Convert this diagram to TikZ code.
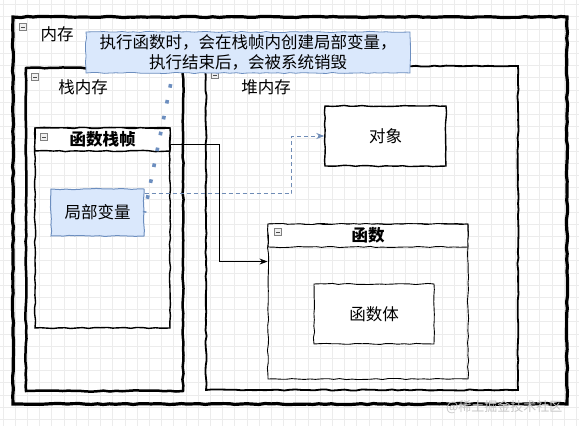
\documentclass[tikz,border=0pt]{standalone}
\usepackage{fontspec}
\setmainfont{Noto Sans CJK SC}
\usetikzlibrary{arrows.meta,decorations.pathmorphing}
\definecolor{noteblue}{HTML}{DAE8FC}
\definecolor{noteline}{HTML}{6C8EBF}
\tikzset{
  sketch/.style={decorate,decoration={random steps,segment length=6pt,amplitude=0.6pt}},
  box/.style={draw,sketch,inner sep=0pt},
  txt/.style={font=\fontsize{16.5}{20}\selectfont},
  minus/.style={draw=gray,fill=gray!12,minimum size=7pt,inner sep=0pt,
    path picture={\draw[gray!60!black] ([xshift=1.5pt]path picture bounding box.west)
      -- ([xshift=-1.5pt]path picture bounding box.east);}},
  gridline/.style={gray!15,line width=0.5pt}
}
\begin{document}
\begin{tikzpicture}[x=1pt,y=-1pt]
  \pgfmathsetseed{11}
  \useasboundingbox (0,0) rectangle (579,426);
  \fill[white] (0,0) rectangle (579,426);
  \foreach \gx in {2.8,15,...,579} \draw[gridline] (\gx,0) -- (\gx,426);
  \foreach \gy in {4.4,16.6,...,426} \draw[gridline] (0,\gy) -- (579,\gy);

  % memory areas
  \node[box,line width=3.2pt,minimum width=554,minimum height=387] (mem) at (290,210.5) {};
  \node[txt] (memlbl) at (57,34) {内存};
  \node[minus] (m1) at (23,27) {};
  \node[box,line width=2.5pt,minimum width=157,minimum height=323] (stack) at (104.5,229.5) {};
  \node[txt] (stacklbl) at (83,87) {栈内存};
  \node[minus] (m2) at (35,77) {};
  \node[box,line width=1.8pt,minimum width=312,minimum height=324] (heap) at (362,228) {};
  \node[txt] (heaplbl) at (266,87) {堆内存};
  \node[minus] (m3) at (215,75) {};

  % stack frame
  \node[box,line width=1.4pt,minimum width=135,minimum height=200] (frame) at (102.5,228) {};
  \node[box,line width=1.4pt,fill=white,minimum width=135,minimum height=23,anchor=north,
    txt,font=\fontsize{16.5}{20}\selectfont\bfseries] (framehead) at (frame.north) {函数栈帧};
  \node[minus] (m4) at (44,137) {};
  \node[box,txt,draw=noteline,fill=noteblue,line width=1pt,minimum width=93,minimum height=47] (local) at (97.5,212.5) {局部变量};

  % heap objects
  \node[box,txt,fill=white,line width=1.4pt,minimum width=121,minimum height=60] (obj) at (385.5,136) {对象};
  \node[box,line width=0.9pt,minimum width=200,minimum height=155] (func) at (368,301.5) {};
  \node[box,line width=0.9pt,fill=white,minimum width=200,minimum height=23,anchor=north,
    txt,font=\fontsize{16.5}{20}\selectfont\bfseries] (funchead) at (func.north) {函数};
  \node[minus] (m5) at (278,232) {};
  \node[box,txt,fill=white,line width=0.9pt,minimum width=120,minimum height=60] (body) at (374,314) {函数体};

  % connectors
  \draw[noteline!85!gray,line width=1pt,dash pattern=on 4pt off 3pt,-{Stealth[length=8pt,width=6pt]}]
    ([yshift=19pt]local.east) -- ++(147,0) |- (obj.west);
  \draw[line width=0.9pt,-{Stealth[length=8pt,width=6pt]}]
    ([yshift=-17pt]frame.north east) -- ++(49,0) |- ([yshift=-38pt]func.north west);
  \coordinate (n1) at (173.5,70);
  \draw[noteline,line width=3.6pt,dash pattern=on 3.6pt off 12.6pt,dash phase=1.8pt]
    (n1) -- (local.east);

  % callout
  \node[box,txt,draw=noteline,fill=noteblue,line width=0.8pt,minimum width=324,minimum height=41,align=center]
    (note) at (248,52.5) {执行函数时，会在栈帧内创建局部变量，\\执行结束后，会被系统销毁};

  \node[text=gray!45,font=\fontsize{13}{15}\selectfont,anchor=east] (wm) at (566,407) {@稀土掘金技术社区};
\end{tikzpicture}
\end{document}
